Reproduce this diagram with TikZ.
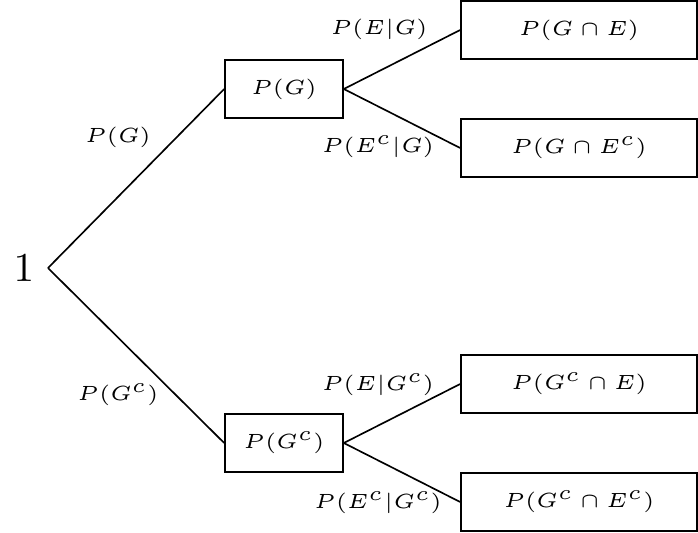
\documentclass[tikz,border=0pt]{standalone}
\begin{document}
\begin{tikzpicture}[x=0.2435pt,y=-0.2435pt,
  lbl/.style={inner sep=0pt,font=\tiny},
  midbox/.style={draw,line width=0.4pt,minimum width=28.73pt,minimum height=14.12pt,inner sep=0pt,font=\tiny},
  leafbox/.style={draw,line width=0.4pt,minimum width=57.47pt,minimum height=14.12pt,inner sep=0pt,font=\tiny},
  edge/.style={line width=0.4pt}]
\useasboundingbox (0,0) rectangle (698,533);
\node[inner sep=0pt,font=\fontsize{10.4}{12}\selectfont] (one) at (24,268) {$1$};
\coordinate (root) at (48,268);
\node[midbox] (g) at (284,89) {$P(G)$};
\node[midbox] (gc) at (284,443) {$P(G^c)$};
\node[leafbox] (ge) at (579,30) {$P(G\cap E)$};
\node[leafbox] (gec) at (579,148) {$P(G\cap E^c)$};
\node[leafbox] (gce) at (579,384) {$P(G^c\cap E)$};
\node[leafbox] (gcec) at (579,502) {$P(G^c\cap E^c)$};
\draw[edge] (root) -- (g.west);
\draw[edge] (root) -- (gc.west);
\draw[edge] (g.east) -- (ge.west);
\draw[edge] (g.east) -- (gec.west);
\draw[edge] (gc.east) -- (gce.west);
\draw[edge] (gc.east) -- (gcec.west);
\node[lbl] (l1) at (118,137) {$P(G)$};
\node[lbl] (l2) at (118,395) {$P(G^c)$};
\node[lbl] (l3) at (379,29) {$P(E|G)$};
\node[lbl] (l4) at (378,147) {$P(E^c|G)$};
\node[lbl] (l5) at (378,385) {$P(E|G^c)$};
\node[lbl] (l6) at (378,503) {$P(E^c|G^c)$};
\end{tikzpicture}
\end{document}
